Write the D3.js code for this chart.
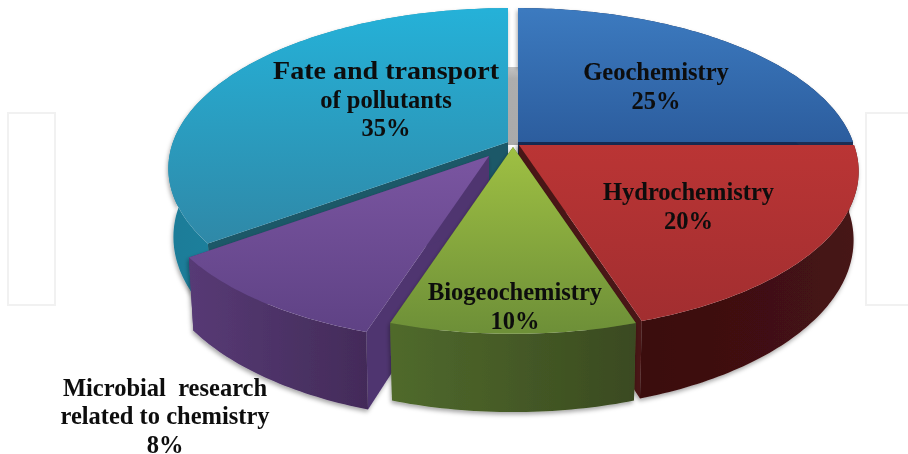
<!DOCTYPE html>
<html>
<head>
<meta charset="utf-8">
<script src="https://cdn.jsdelivr.net/npm/d3@7"></script>
<style>
html,body{margin:0;padding:0;background:#fff;width:908px;height:454px;overflow:hidden}
svg{display:block}
text{font-family:"Liberation Serif",serif;font-weight:bold;fill:#0b0b0b;font-size:24.5px;text-anchor:middle}
</style>
</head>
<body>
<svg id="c" width="908" height="454"></svg>
<script>
// Slice sizes are measured from the drawn angles. The picture draws the
// "Microbial research" wedge at about 10% of the circle although its printed label says 8%.
const categories = ["Geochemistry", "Hydrochemistry", "Biogeochemistry", "Microbial research related to chemistry", "Fate and transport of pollutants"];
const drawnShares = [25, 20, 10, 10, 35];
const printedPercents = ["25%", "20%", "10%", "8%", "35%"];
const labelLines = [
  ["Geochemistry", "25%"],
  ["Hydrochemistry", "20%"],
  ["Biogeochemistry", "10%"],
  ["Microbial  research", "related to chemistry", "8%"],
  ["Fate and transport", "of pollutants", "35%"]
];

const W = 908, H = 454;
const svg = d3.select("#c");
const defs = svg.append("defs");

// layout, by slice
const apex = [[518,142],[519,145],[513,147],[489,156],[508,142]];
const labelPos = [[656,80],[688.5,200],[515,300],[165,395.5],[386,79]];
const lineFit = {"Fate and transport":226};
const paint = [
  {top:["#3c7abf","#2c5d9e"], wall:["#1a2e55","#1a2e55"], cut:"#182c52"},
  {top:["#cd3a38","#a22e30"], wall:["#3a0e0f","#461314"], cut:"#4a1414"},
  {top:["#9fc043","#6e9038"], wall:["#506a2c","#3a4a20"], cut:"#4a6028"},
  {top:["#7b56a2","#5f4285"], wall:["#573a75","#432b59"], cut:"#4f3570"},
  {top:["#25b1d8","#2f89a8"], wall:["#1d7c98","#2596b5"], cut:"#1c5868"}
];

// ground-plane to screen projection
const persp = 0.165;
const xTop = d3.scaleLinear().domain([-1,1]).range([-335,335]);
const yTop = d3.scaleLinear().domain([-1,1]).range([-156,156]);
const xBot = d3.scaleLinear().domain([-1,1]).range([-330,330]);
const yBot = d3.scaleLinear().domain([-1,1]).range([67-165.4,67+165.4]);

function proj(theta, a, xs, ys){
  const u = Math.sin(theta), v = -Math.cos(theta), w = 1 - persp*v;
  return [a[0] + xs(u/w), a[1] + ys(v/w)];
}
const pTop = (t,a)=>proj(t,a,xTop,yTop);
const pBot = (t,a)=>proj(t,a,xBot,yBot);
const line = d3.line();
const arcAngles = (s,e)=>{const n=Math.max(8,Math.ceil((e-s)*60));return d3.range(n+1).map(i=>s+(e-s)*i/n);};

const pie = d3.pie().sort(null).value(d=>d);
const arcs = pie(drawnShares);

// gradients
paint.forEach((p,i)=>{
  const g = defs.append("linearGradient").attr("id","t"+i).attr("gradientUnits","userSpaceOnUse")
    .attr("x1",0).attr("x2",0).attr("y1",i===3?150:(i===2?147:10)).attr("y2",i===4?240:(i<2?(i===0?142:320):330));
  g.append("stop").attr("offset",0).attr("stop-color",p.top[0]);
  g.append("stop").attr("offset",1).attr("stop-color",p.top[1]);
  const h = defs.append("linearGradient").attr("id","w"+i).attr("gradientUnits","objectBoundingBox")
    .attr("x1",0).attr("x2",1).attr("y1",0).attr("y2",0);
  h.append("stop").attr("offset",0).attr("stop-color",p.wall[0]);
  h.append("stop").attr("offset",1).attr("stop-color",p.wall[1]);
});
const gg = defs.append("linearGradient").attr("id","gap").attr("x1",0).attr("x2",0).attr("y1",0).attr("y2",1);
gg.append("stop").attr("offset",0).attr("stop-color","#c4c4c4");
gg.append("stop").attr("offset",0.15).attr("stop-color","#adadad");
gg.append("stop").attr("offset",1).attr("stop-color","#aaaaaa");

const sh = defs.append("filter").attr("id","shadow").attr("x","-5%").attr("y","-5%").attr("width","110%").attr("height","115%");
sh.append("feDropShadow").attr("dx",-1).attr("dy",2.5).attr("stdDeviation",2).attr("flood-color","#000").attr("flood-opacity",0.35);
const soft = defs.append("filter").attr("id","soft");
soft.append("feGaussianBlur").attr("stdDeviation",0.4);

// faint watermark frames
const frames = svg.append("g").attr("fill","#fff").attr("stroke","#f1f1f1").attr("stroke-width",2);
frames.append("rect").attr("x",8).attr("y",113).attr("width",47).attr("height",192);
frames.append("rect").attr("x",866).attr("y",113).attr("width",60).attr("height",192);

const layers = svg.append("g");

// paint order: back slices first
[4,0,1,3,2].forEach(i=>{
  const d = arcs[i], a = apex[i], g = layers.append("g");
  const angles = arcAngles(d.startAngle,d.endAngle);
  const topPts = angles.map(t=>pTop(t,a));
  const botPts = angles.map(t=>pBot(t,a));
  const bottomCenter = [a[0], a[1]+yBot(0)];
  const walls = g.append("g").attr("filter","url(#shadow)");
  [d.startAngle,d.endAngle].forEach(t=>{
    walls.append("path")
      .attr("d",line([a,pTop(t,a),pBot(t,a),bottomCenter])+"Z")
      .attr("fill",paint[i].cut);
  });
  walls.append("path")
    .attr("d",line(topPts.concat(botPts.slice().reverse()))+"Z")
    .attr("fill",`url(#w${i})`);
  g.append("path")
    .attr("d",line([a].concat(topPts))+"Z")
    .attr("fill",`url(#t${i})`);
  if(i===4){
    const r = apex[0];
    const backY = pBot(0,a)[1];
    layers.insert("path",":first-child")
      .attr("d",line([[a[0],backY],[r[0],backY],[r[0],r[1]+3],[a[0],r[1]+3]])+"Z")
      .attr("fill","url(#gap)");
  }
});

// labels
const labels = svg.append("g").attr("filter","url(#soft)");
labelLines.forEach((lines,i)=>{
  lines.forEach((s,j)=>{
    const t = labels.append("text")
      .attr("x",labelPos[i][0]).attr("y",labelPos[i][1]+j*28.7)
      .style("white-space","pre").text(s);
    if(lineFit[s]) t.attr("textLength",lineFit[s]).attr("lengthAdjust","spacingAndGlyphs");
  });
});
</script>
</body>
</html>
